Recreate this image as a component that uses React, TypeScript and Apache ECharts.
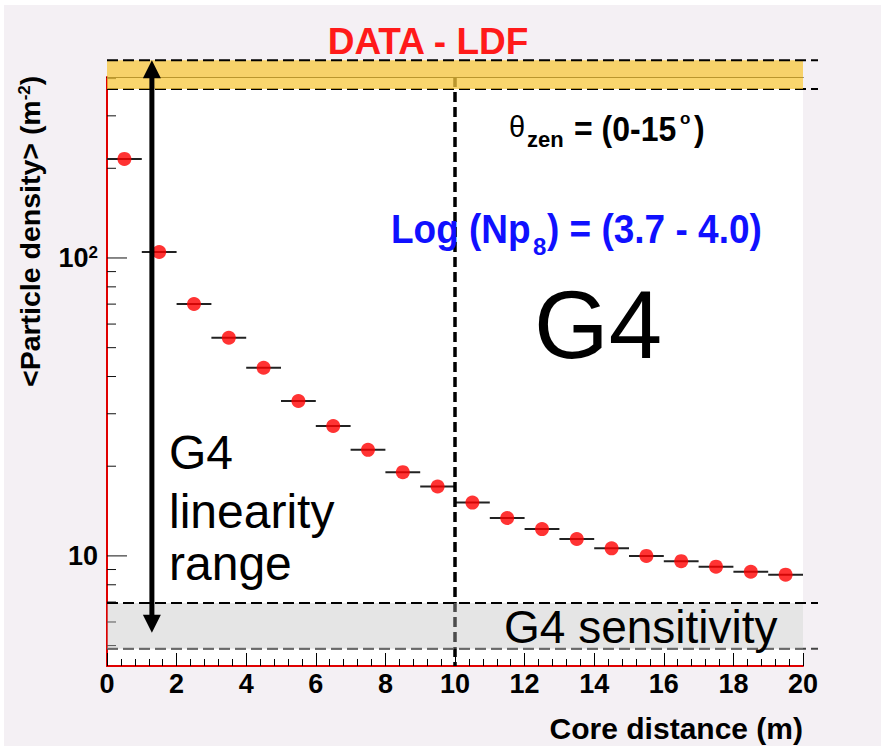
import React, { useEffect, useRef } from 'react';
import * as echarts from 'echarts';

// ---- data ----
const coreDistance = [0.5, 1.5, 2.5, 3.5, 4.5, 5.5, 6.5, 7.5, 8.5, 9.5, 10.5, 11.5, 12.5, 13.5, 14.5, 15.5, 16.5, 17.5, 18.5, 19.5];
const density = [215, 104.7, 70.1, 54.0, 42.8, 33.1, 27.3, 22.7, 19.1, 17.1, 15.1, 13.4, 12.3, 11.4, 10.6, 10.0, 9.6, 9.2, 8.85, 8.65];
const binHalfWidth = 0.5;

const xRange = [0, 20];
const xTickStep = 2;
const yRange = [4.27, 405];
const yMajorTicks = [10, 100];
const yMinorTicks = [5, 6, 7, 8, 9, 20, 30, 40, 50, 60, 70, 80, 90, 200, 300, 400];

// annotation values (data space)
const saturationBand = [369, 461];
const sensitivityBand = [4.88, 6.95];
const g4Boundary = 10;
const linearityArrowX = 1.29;
const linearityArrowY = [461, 5.52];

// texts
const titleText = 'DATA - LDF';
const xTitle = 'Core distance (m)';
const yTitle = '<Particle density> (m{sup|-2})';

const FONT = '"Liberation Sans", Arial, Helvetica, sans-serif';

export default function App() {
  const ref = useRef<HTMLDivElement>(null);

  useEffect(() => {
    const chart = echarts.init(ref.current!, null, { renderer: 'svg' });

    const points = coreDistance.map((x, i) => [x, density[i]]);
    const tickData = [...yMajorTicks, ...yMinorTicks].map((v) => [xRange[0], v]);

    chart.setOption({
      animation: false,
      backgroundColor: '#f4f0f4',
      grid: {
        left: 107,
        right: 78,
        top: 77,
        bottom: 80,
        show: true,
        backgroundColor: '#ffffff',
        borderWidth: 0,
      },
      xAxis: [
        {
          type: 'value',
          min: xRange[0],
          max: xRange[1],
          interval: xTickStep,
          axisLine: { show: true, lineStyle: { color: '#e00000', width: 2 } },
          axisTick: { show: true, inside: true, length: 13, lineStyle: { color: '#000', width: 1 } },
          minorTick: { show: true, splitNumber: 5, length: 7, lineStyle: { color: '#000', width: 1 } },
          axisLabel: { fontSize: 27, fontWeight: 'bold', color: '#000', margin: 4, fontFamily: FONT },
          splitLine: { show: false },
        },
        {
          type: 'value',
          position: 'top',
          min: xRange[0],
          max: xRange[1],
          axisLine: { show: true, lineStyle: { color: '#000', width: 1 } },
          axisTick: { show: false },
          axisLabel: { show: false },
          splitLine: { show: false },
        },
      ],
      yAxis: [
        {
          type: 'log',
          logBase: 10,
          min: yRange[0],
          max: yRange[1],
          axisLine: { show: true, lineStyle: { color: '#000', width: 1 } },
          axisTick: { show: false },
          splitLine: { show: false },
          axisLabel: {
            fontSize: 27,
            fontWeight: 'bold',
            color: '#000',
            margin: 9,
            fontFamily: FONT,
            formatter: (v: number) => {
              const l = Math.log10(v);
              const r = Math.round(l);
              if (Math.abs(l - r) > 1e-6) return '';
              if (r === 1) return '{b|10}';
              return '{b|10}{sup|' + r + '}';
            },
            rich: {
              b: { fontSize: 27, fontWeight: 'bold', color: '#000', fontFamily: FONT },
              sup: { fontSize: 17, fontWeight: 'bold', color: '#000', fontFamily: FONT, verticalAlign: 'top' },
            },
          },
        },
        {
          type: 'log',
          logBase: 10,
          position: 'right',
          min: yRange[0],
          max: yRange[1],
          axisLine: { show: true, lineStyle: { color: '#e00000', width: 2 } },
          axisTick: { show: false },
          axisLabel: { show: false },
          splitLine: { show: false },
        },
      ],
      series: [
        {
          type: 'scatter',
          data: points,
          symbol: 'circle',
          symbolSize: 14,
          itemStyle: { color: '#ff0000' },
          z: 5,
        },
        {
          type: 'custom',
          data: points,
          z: 4,
          renderItem: (params: any, api: any) => {
            const x = api.value(0);
            const y = api.value(1);
            const a = api.coord([x - binHalfWidth, y]);
            const b = api.coord([x + binHalfWidth, y]);
            return {
              type: 'line',
              shape: { x1: a[0], y1: a[1], x2: b[0], y2: b[1] },
              style: { stroke: '#222', lineWidth: 2 },
            };
          },
        },
        {
          type: 'custom',
          data: tickData,
          z: 3,
          renderItem: (params: any, api: any) => {
            const v = api.value(1);
            const p = api.coord([xRange[0], v]);
            const len = yMajorTicks.indexOf(v) >= 0 ? 20 : 9;
            return {
              type: 'line',
              shape: { x1: p[0], y1: p[1], x2: p[0] + len, y2: p[1] },
              style: { stroke: '#111', lineWidth: 1 },
            };
          },
        },
      ],
    });

    const P = (x: number, y: number) => chart.convertToPixel({ seriesIndex: 0 }, [x, y]) as number[];
    const [gx0, gyTop] = P(xRange[0], yRange[1]);
    const [gx1, gyBot] = P(xRange[1], yRange[0]);
    const yelTop = P(xRange[0], saturationBand[1])[1];
    const yelBot = P(xRange[0], saturationBand[0])[1];
    const grTop = P(xRange[0], sensitivityBand[1])[1];
    const grBot = P(xRange[0], sensitivityBand[0])[1];
    const vx = P(g4Boundary, yRange[0])[0];
    const ax = P(linearityArrowX, yRange[0])[0];
    const ayTop = P(linearityArrowX, linearityArrowY[0])[1];
    const ayBot = P(linearityArrowX, linearityArrowY[1])[1];
    const ext = gx1 + 15;
    const head = 18;
    const hw = 9;

    const txt = (text: string, x: number, y: number, size: number, opts: any = {}) => ({
      type: 'text',
      x,
      y,
      z: 20,
      scaleY: opts.scaleY || 1,
      rotation: opts.rotation || 0,
      style: {
        text,
        fontSize: size,
        fontWeight: opts.weight || 'normal',
        fontFamily: opts.family || FONT,
        fill: opts.fill || '#000',
        align: opts.align || 'left',
        verticalAlign: 'middle',
        rich: opts.rich,
      },
    });

    const elements: any[] = [
      { type: 'rect', z: 0, shape: { x: 0, y: 0, width: 881, height: 5 }, style: { fill: '#ffffff' } },
      { type: 'rect', z: 0, shape: { x: 0, y: 0, width: 4, height: 746 }, style: { fill: '#ffffff' } },
      // vertical G4 boundary
      {
        type: 'line', z: 6,
        shape: { x1: vx, y1: gyTop, x2: vx, y2: gyBot },
        style: { stroke: '#000', lineWidth: 3.5, lineDash: [10, 5] },
      },
      // sensitivity band
      {
        type: 'line', z: 6,
        shape: { x1: gx0, y1: grBot, x2: ext, y2: grBot },
        style: { stroke: '#444', lineWidth: 2, lineDash: [11, 5] },
      },
      {
        type: 'rect', z: 7,
        shape: { x: gx0, y: grTop, width: gx1 - gx0, height: grBot - grTop },
        style: { fill: 'rgba(190,190,190,0.4)' },
      },
      {
        type: 'line', z: 8,
        shape: { x1: gx0, y1: grTop, x2: ext, y2: grTop },
        style: { stroke: '#000', lineWidth: 2, lineDash: [11, 5] },
      },
      // saturation band
      {
        type: 'line', z: 6,
        shape: { x1: gx0, y1: yelBot, x2: ext, y2: yelBot },
        style: { stroke: '#000', lineWidth: 2, lineDash: [11, 5] },
      },
      {
        type: 'rect', z: 7,
        shape: { x: gx0, y: yelTop, width: gx1 - gx0, height: yelBot - yelTop },
        style: { fill: 'rgba(248,200,60,0.75)' },
      },
      {
        type: 'line', z: 8,
        shape: { x1: gx0, y1: yelTop, x2: ext, y2: yelTop },
        style: { stroke: '#000', lineWidth: 2, lineDash: [11, 5] },
      },
      // linearity arrow
      {
        type: 'line', z: 9,
        shape: { x1: ax, y1: ayTop + head - 2, x2: ax, y2: ayBot - head + 2 },
        style: { stroke: '#000', lineWidth: 5 },
      },
      {
        type: 'polygon', z: 9,
        shape: { points: [[ax, ayTop], [ax - hw, ayTop + head], [ax + hw, ayTop + head]] },
        style: { fill: '#000' },
      },
      {
        type: 'polygon', z: 9,
        shape: { points: [[ax, ayBot], [ax - hw, ayBot - head], [ax + hw, ayBot - head]] },
        style: { fill: '#000' },
      },
      // texts
      txt(titleText, 428, 41, 37, { weight: 'bold', fill: '#ff1a1a', align: 'center' }),
      txt('θ', 509, 127, 29),
      txt('zen', 527, 139, 22, { weight: 'bold' }),
      txt('= (0-15', 574, 128.5, 32, { weight: 'bold', scaleY: 1.1 }),
      txt('o', 680, 118, 17, { weight: 'bold' }),
      txt(')', 694, 128.5, 32, { weight: 'bold', scaleY: 1.1 }),
      txt('Log (Np', 391, 228, 37, { weight: 'bold', fill: '#1010ff', scaleY: 1.12 }),
      txt('8', 533, 246.5, 24, { weight: 'bold', fill: '#1010ff' }),
      txt(') = (3.7 - 4.0)', 547, 228, 37, { weight: 'bold', fill: '#1010ff', scaleY: 1.12 }),
      txt('G4', 534, 324, 96),
      txt('G4', 169, 452.5, 48),
      txt('linearity', 169, 511, 48),
      txt('range', 169, 563, 48),
      txt('G4 sensitivity', 504, 626.5, 46),
      txt(xTitle, 803, 728.5, 30, { weight: 'bold', align: 'right' }),
      txt(yTitle, 30, 387, 28.5, {
        weight: 'bold',
        rotation: Math.PI / 2,
        rich: { sup: { fontSize: 17, fontWeight: 'bold', fontFamily: FONT, fill: '#000', verticalAlign: 'top' } },
      }),
    ];

    chart.setOption({ graphic: { elements } });

    return () => chart.dispose();
  }, []);

  return <div ref={ref} style={{ position: 'fixed', left: 0, top: 0, width: 881, height: 746 }} />;
}
